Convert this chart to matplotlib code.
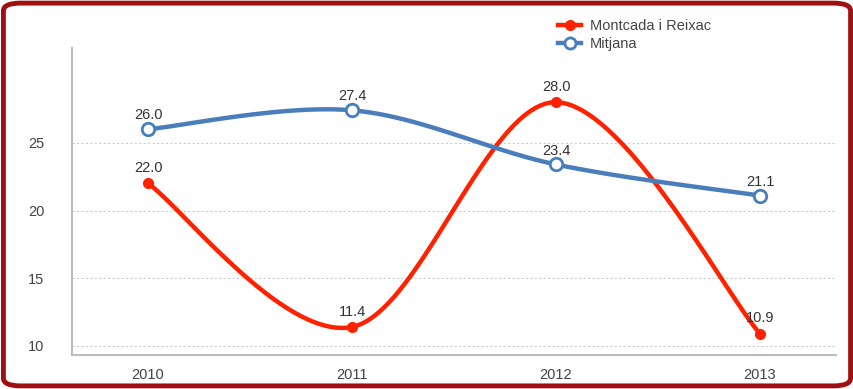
import numpy as np
import matplotlib.pyplot as plt
from matplotlib.patches import FancyBboxPatch
from matplotlib.lines import Line2D

plt.rcParams['font.family'] = ['Liberation Sans Narrow', 'Liberation Sans', 'DejaVu Sans']

# dades
years = ['2010', '2011', '2012', '2013']
montcada = [22.0, 11.4, 28.0, 10.9]
mitjana = [26.0, 27.4, 23.4, 21.1]

red = '#ff2200'
blue = '#4a7ebb'


def smooth(xs, ys, n=40):
    # corba suavitzada tipus Excel (Bezier amb tangents Catmull-Rom)
    p = np.column_stack([xs, ys]).astype(float)
    p = np.vstack([p[0], p, p[-1]])
    out = []
    for i in range(1, len(p) - 2):
        p0, p1, p2, p3 = p[i - 1], p[i], p[i + 1], p[i + 2]
        c1 = p1 + (p2 - p0) / 6
        c2 = p2 - (p3 - p1) / 6
        t = np.linspace(0, 1, n)[:, None]
        seg = ((1 - t) ** 3) * p1 + 3 * ((1 - t) ** 2) * t * c1 + 3 * (1 - t) * t ** 2 * c2 + t ** 3 * p2
        out.append(seg if i == 1 else seg[1:])
    out = np.vstack(out)
    return out[:, 0], out[:, 1]


fig = plt.figure(figsize=(8.54, 3.89), dpi=100)
ax = fig.add_axes([0.0843, 0.0874, 0.979 - 0.0843, 0.8766 - 0.0874])

x = np.arange(len(years))

sx, sy = smooth(x, montcada)
ax.plot(sx, sy, color=red, lw=3.2, solid_capstyle='round', zorder=3)
ax.plot(x, montcada, 'o', color=red, ms=7, zorder=4)

bx, by = smooth(x, mitjana)
ax.plot(bx, by, color=blue, lw=3.2, solid_capstyle='round', zorder=3)
ax.plot(x, mitjana, 'o', mfc='white', mec=blue, mew=2, ms=9, zorder=5)

for xi, v in zip(x, montcada):
    ax.annotate(f'{v:.1f}', (xi, v), xytext=(0, 6), textcoords='offset points',
                ha='center', va='bottom', fontsize=10.5, color='#333333', zorder=6)
for xi, v in zip(x, mitjana):
    ax.annotate(f'{v:.1f}', (xi, v), xytext=(0, 5), textcoords='offset points',
                ha='center', va='bottom', fontsize=10.5, color='#333333', zorder=6)

ax.set_xlim(-0.373, 3.373)
ax.set_ylim(9.33, 32)
ax.set_xticks(x)
ax.set_xticklabels(years)
ax.set_yticks([10, 15, 20, 25])
ax.tick_params(axis='both', length=0, labelsize=10.5, labelcolor='#444444')
ax.tick_params(axis='y', pad=20)
ax.tick_params(axis='x', pad=9)
ax.grid(axis='y', color='#cccccc', lw=0.8, ls=(0, (2, 2)))
ax.set_axisbelow(True)
for s in ['top', 'right']:
    ax.spines[s].set_visible(False)
for s in ['left', 'bottom']:
    ax.spines[s].set_color('#bbbbbb')
    ax.spines[s].set_linewidth(1.5)

handles = [
    Line2D([], [], color=red, lw=3.2, marker='o', ms=7),
    Line2D([], [], color=blue, lw=3.2, marker='o', mfc='white', mec=blue, mew=2, ms=8),
]
fig.legend(handles, ['Montcada i Reixac', 'Mitjana'], loc='upper left',
           bbox_to_anchor=(0.638, 0.985), frameon=False, fontsize=10.5,
           handlelength=1.6, handletextpad=0.6, labelspacing=0.3,
           labelcolor='#444444')

# marc vermell arrodonit
frame = FancyBboxPatch((0.004, 0.008), 0.992, 0.984, transform=fig.transFigure,
                       boxstyle='round,pad=0,rounding_size=0.02', fill=False,
                       ec='#a01010', lw=3.5, zorder=10)
fig.patches.append(frame)

fig.savefig('out.png', dpi=100)
